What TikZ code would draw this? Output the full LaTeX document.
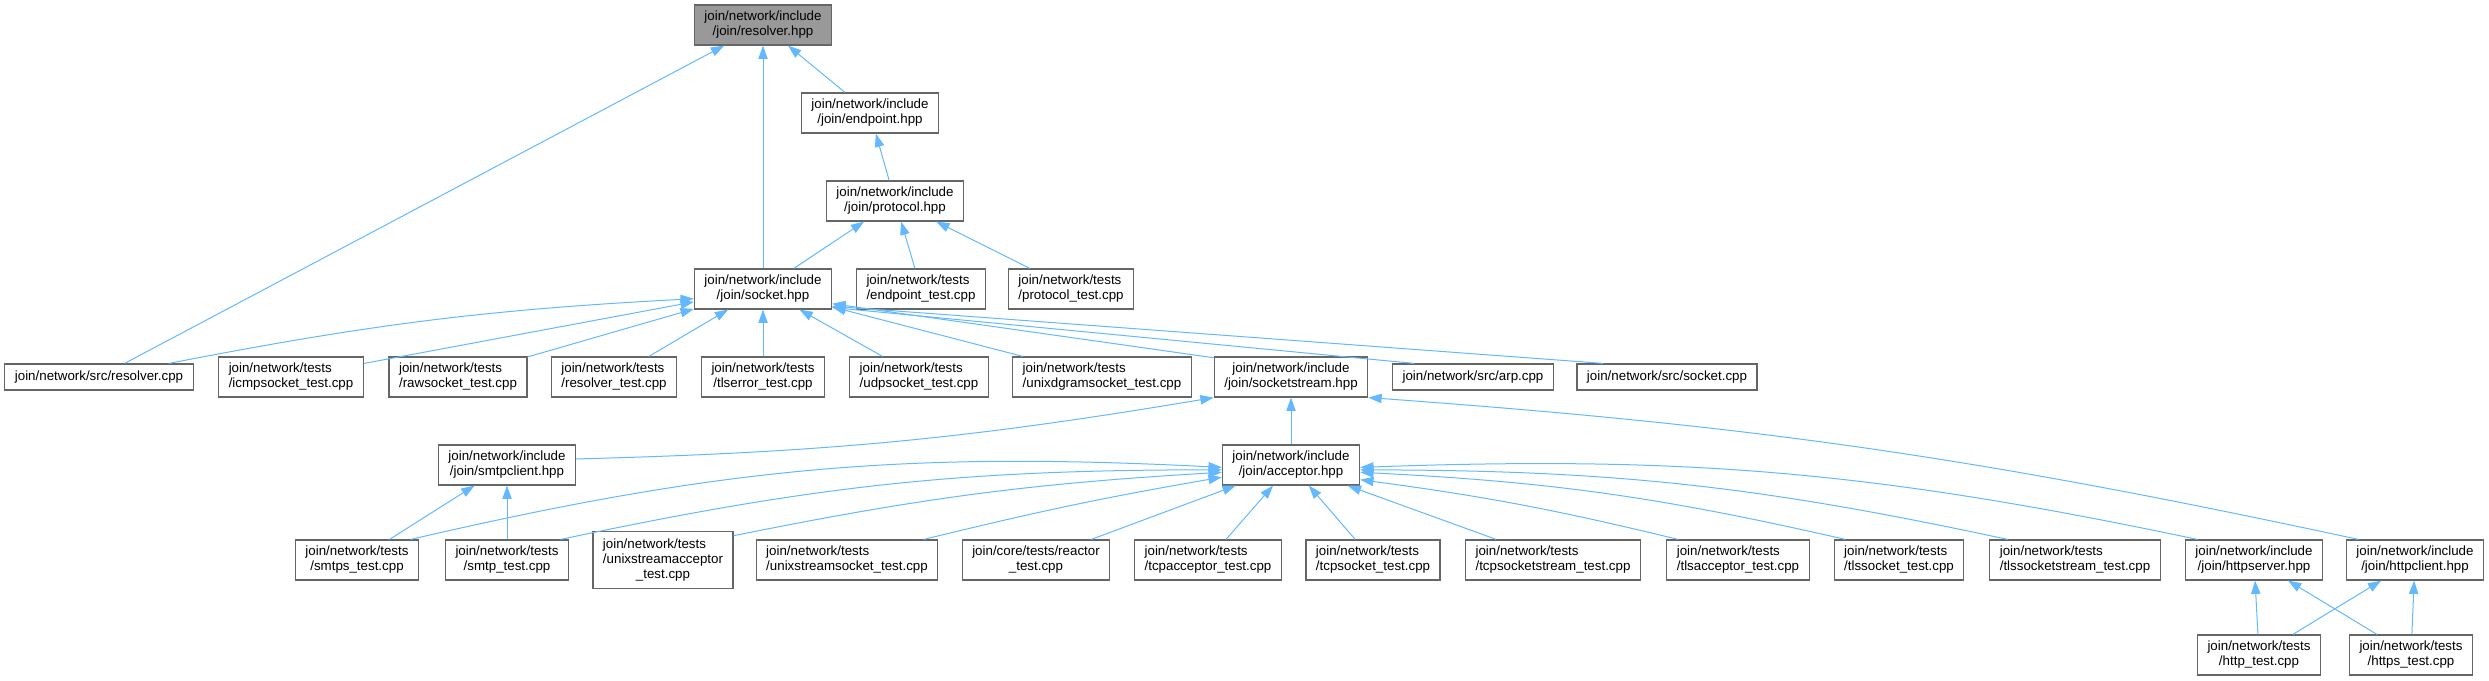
\documentclass[tikz,border=0pt]{standalone}
\usepackage{fontspec}
\setmainfont{Liberation Sans}
\usetikzlibrary{arrows.meta}
\definecolor{edgeblue}{HTML}{63B8FF}
\definecolor{boxgray}{HTML}{666666}
\definecolor{hlgray}{HTML}{999999}
\tikzset{
  file/.style={draw=boxgray, line width=0.9pt, fill=white, align=center,
    inner xsep=7.5pt, inner ysep=4.7pt, minimum height=19.5pt,
    font=\fontsize{10}{11.25}\selectfont},
  testfile/.style={file, align=left},
  incl/.style={draw=edgeblue, line width=0.75pt,
    -{Triangle[length=10pt,width=7pt]}}
}
\begin{document}
\begin{tikzpicture}[x=0.75pt, y=0.75pt]
\useasboundingbox (0,0) rectangle (2489,-681);

\node[file, fill=hlgray] (rhpp) at (763,-25) {join/network/include\\/join/resolver.hpp};
\node[file] (ehpp) at (870,-113) {join/network/include\\/join/endpoint.hpp};
\node[file] (phpp) at (895,-201) {join/network/include\\/join/protocol.hpp};
\node[file] (shpp) at (763,-289) {join/network/include\\/join/socket.hpp};
\node[testfile] (etest) at (921,-289) {join/network/tests\\/endpoint\_test.cpp};
\node[testfile] (ptest) at (1071,-289) {join/network/tests\\/protocol\_test.cpp};

\node[file] (rcpp) at (99,-377) {join/network/src/resolver.cpp};
\node[testfile] (icmp) at (291,-377) {join/network/tests\\/icmpsocket\_test.cpp};
\node[testfile] (raw) at (458,-377) {join/network/tests\\/rawsocket\_test.cpp};
\node[testfile] (rtest) at (614,-377) {join/network/tests\\/resolver\_test.cpp};
\node[file] (tlserr) at (763,-377) {join/network/tests\\/tlserror\_test.cpp};
\node[testfile] (udp) at (919,-377) {join/network/tests\\/udpsocket\_test.cpp};
\node[testfile] (unixdg) at (1102,-377) {join/network/tests\\/unixdgramsocket\_test.cpp};
\node[file] (sshpp) at (1291,-377) {join/network/include\\/join/socketstream.hpp};
\node[file] (arp) at (1473,-377) {join/network/src/arp.cpp};
\node[file] (scpp) at (1667,-377) {join/network/src/socket.cpp};

\node[file] (smtpc) at (507,-465) {join/network/include\\/join/smtpclient.hpp};
\node[file] (acc) at (1291,-465) {join/network/include\\/join/acceptor.hpp};

\node[file] (smtps) at (357,-560) {join/network/tests\\/smtps\_test.cpp};
\node[file] (smtp) at (507,-560) {join/network/tests\\/smtp\_test.cpp};
\node[file] (usacc) at (663,-560) {\begin{tabular}{@{}l@{}}join/network/tests\\/unixstreamacceptor\\\multicolumn{1}{@{}c@{}}{\_test.cpp}\end{tabular}};
\node[testfile] (ussock) at (847,-560) {join/network/tests\\/unixstreamsocket\_test.cpp};
\node[file] (reactor) at (1036,-560) {join/core/tests/reactor\\\_test.cpp};
\node[testfile] (tcpacc) at (1208,-560) {join/network/tests\\/tcpacceptor\_test.cpp};
\node[testfile] (tcpsock) at (1373,-560) {join/network/tests\\/tcpsocket\_test.cpp};
\node[testfile] (tcpss) at (1553,-560) {join/network/tests\\/tcpsocketstream\_test.cpp};
\node[testfile] (tlsacc) at (1738,-560) {join/network/tests\\/tlsacceptor\_test.cpp};
\node[testfile] (tlssock) at (1899,-560) {join/network/tests\\/tlssocket\_test.cpp};
\node[testfile] (tlsss) at (2075,-560) {join/network/tests\\/tlssocketstream\_test.cpp};
\node[file] (httpsrv) at (2254,-560) {join/network/include\\/join/httpserver.hpp};
\node[file] (httpc) at (2415,-560) {join/network/include\\/join/httpclient.hpp};

\node[file] (httptest) at (2259,-655) {join/network/tests\\/http\_test.cpp};
\node[file] (httpstest) at (2411,-655) {join/network/tests\\/https\_test.cpp};

\draw[incl] (rcpp) -- (rhpp);
\draw[incl] (shpp) -- (rhpp);
\draw[incl] (ehpp) -- (rhpp);
\draw[incl] (phpp) -- (ehpp);
\draw[incl] (shpp) -- (phpp);
\draw[incl] (etest) -- (phpp);
\draw[incl] (ptest) -- (phpp);

\draw[incl] (rcpp.11) to[bend left=4] (shpp.188);
\draw[incl] (icmp) -- (shpp);
\draw[incl] (raw) -- (shpp);
\draw[incl] (rtest) -- (shpp);
\draw[incl] (tlserr) -- (shpp);
\draw[incl] (udp) -- (shpp);
\draw[incl] (unixdg) -- (shpp);
\draw[incl] (sshpp.166) -- (shpp.-12);
\draw[incl] (arp.167) -- (shpp.-15);
\draw[incl] (scpp.168) -- (shpp.-14);

\draw[incl] (smtpc.5) to[bend right=4] (sshpp.south west);
\draw[incl] (acc) -- (sshpp);
\draw[incl] (httpc.160) to[bend right=4] (sshpp.south east);

\draw[incl] (smtps) -- (smtpc);
\draw[incl] (smtp) -- (smtpc);
\draw[incl] (smtps.21) to[bend left=8] (acc.182);
\draw[incl] (smtp.21) to[bend left=6] (acc.184);
\draw[incl] (usacc.19) to[bend left=4] (acc.186);
\draw[incl] (ussock.15) to[bend left=2] (acc.190);
\draw[incl] (reactor) -- (acc);
\draw[incl] (tcpacc) -- (acc);
\draw[incl] (tcpsock) -- (acc);
\draw[incl] (tcpss) -- (acc);
\draw[incl] (tlsacc.161) to[bend right=3] (acc.-12);
\draw[incl] (tlssock.159) to[bend right=5] (acc.-6);
\draw[incl] (tlsss.163) to[bend right=6] (acc.-4);
\draw[incl] (httpsrv.160) to[bend right=7] (acc.-2);

\draw[incl] (httptest) -- (httpsrv);
\draw[incl] (httptest) -- (httpc);
\draw[incl] (httpstest) -- (httpsrv);
\draw[incl] (httpstest) -- (httpc);
\end{tikzpicture}
\end{document}
